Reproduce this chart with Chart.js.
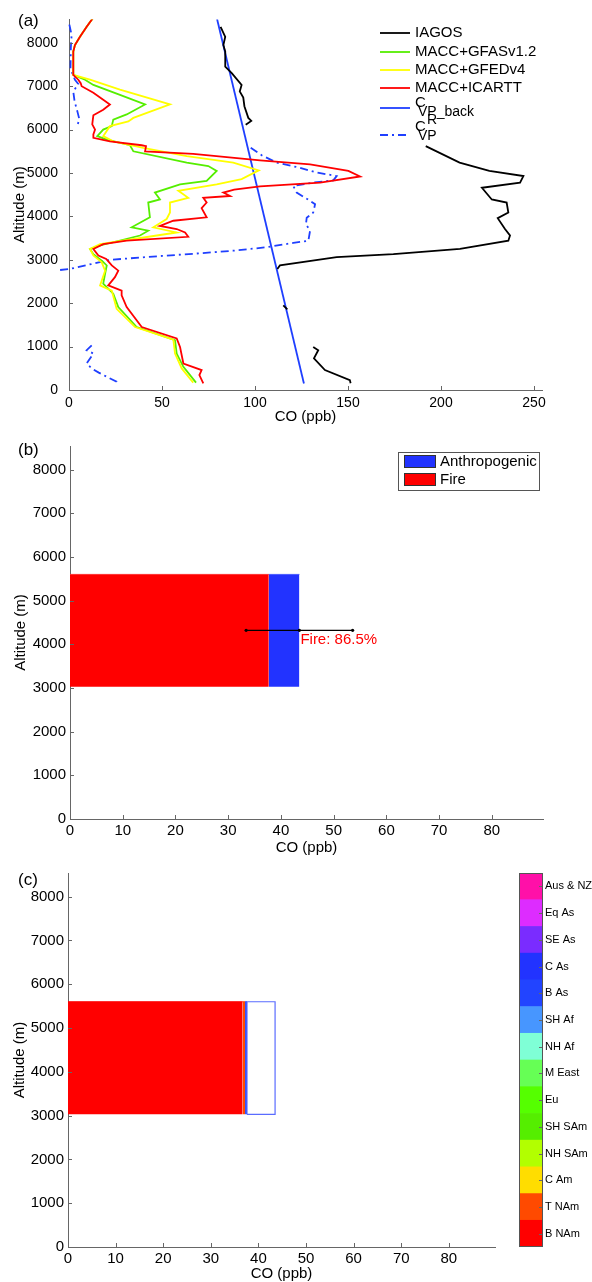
<!DOCTYPE html>
<html>
<head>
<meta charset="utf-8">
<script src="https://cdn.jsdelivr.net/npm/chart.js@4.4.0/dist/chart.umd.min.js"></script>
<style>
  body { margin: 0; background: #fff; width: 592px; height: 1282px; position: relative; overflow: hidden; }
  canvas { position: absolute; }
</style>
</head>
<body>
<canvas id="chartA" width="592" height="425" style="left:0;top:0"></canvas>
<canvas id="chartB" width="592" height="435" style="left:0;top:425px"></canvas>
<canvas id="chartC" width="500" height="432" style="left:0;top:850px"></canvas>
<canvas id="colorBar" width="92" height="432" style="left:500px;top:850px"></canvas>
<script>
// ---- panel (a): vertical profiles, CO (ppb) vs altitude (m); null = gap ----
const iagosCO  = [81.5, 84, 83, 84, 84, 87.5, 92.8, 91.8, 93.7, 94.3, 96.4, 98, 95, null,
                  191.8, 210, 226, 244.3, 242.5, 222, 227.3, 235.3, 236.2, 230.5, 234.4, 237.1, 236.2, 210.2, 174.4, 143.9, 113.4, 112, null,
                  115.2, 117.4, null,
                  131.3, 134, 131.7, 137.6, 151, 151.4];
const iagosAlt = [8370, 8140, 7950, 7800, 7450, 7300, 7030, 6880, 6740, 6540, 6270, 6200, 6110, null,
                  5620, 5240, 5050, 4930, 4780, 4660, 4390, 4320, 4090, 3960, 3710, 3560, 3440, 3250, 3130, 3060, 2870, 2790, null,
                  1950, 1860, null,
                  993, 917, 727, 459, 229, 154];

const gfasCO  = [12.7, 9.5, 5.9, 3.2, 2.3, 2.3, 8.6, 13.1, 27.4, 40.9, 31, 23.8, 23, 18.4, 15.2, 20.3, 32.8, 34.6, 63.3, 74.9,
                 79.4, 74, 59.7, 46.2, 48.9, 42.6, 43.5, 33.7, 42.6, 38.2, 16.7, 11.3, 13.1, 17.6, 20.3, 19.4, 18.4, 23.8, 26.5, 36.4,
                 57, 57.9, 61.5, 68.3];
const gfasAlt = [8560, 8370, 8140, 7950, 7800, 7260, 7150, 7030, 6800, 6580, 6350, 6230, 6080, 6000, 5850, 5770, 5640, 5500, 5240, 5160,
                 5050, 4820, 4740, 4550, 4390, 4320, 3980, 3750, 3670, 3560, 3330, 3250, 3130, 2980, 2870, 2680, 2450, 2220, 1910, 1450,
                 1150, 840, 535, 170];

const gfedCO  = [12.7, 9.5, 5.9, 3.2, 2.3, 2.3, 11.3, 27.4, 54.3, 34.6, 31.9, 22, 18.4, 23.8, 39.9, 63.3, 88.3, 102, 92.8, 79.4,
                 58.8, 64.1, 54.3, 54.3, 52.5, 45.3, 57.9, 47.2, 16.7, 11.3, 13.1, 17.6, 19.4, 17.6, 16.7, 23, 25.6, 35.5, 56.1, 57,
                 60.6, 66.8];
const gfedAlt = [8560, 8370, 8140, 7950, 7800, 7260, 7150, 6920, 6580, 6270, 6190, 6080, 5850, 5730, 5580, 5390, 5240, 5060, 4860, 4740,
                 4590, 4430, 4320, 4090, 3940, 3750, 3630, 3560, 3360, 3250, 3100, 2940, 2750, 2520, 2410, 2290, 1870, 1450, 1160, 840,
                 497, 170];

const icarttCO  = [12.7, 9.5, 5.9, 3.2, 2.3, 2.3, 5, 6.3, 6.8, 13.1, 18.4, 22, 18.4, 13.1, 12.5, 14, 13.1, 13.1, 22, 39.1,
                   41.4, 40.9, 66.8, 102.7, 129.6, 150.2, 156.5, 135, 102.7, 88.8, 83, 86.6, 72.2, 74, 71.3, 74, 56.1, 48.9, 57.9, 62.4,
                   64.1, 31, 18.4, 13.1, 15.8, 20, 23, 26.5, 24.7, 21.1, 28.3, 28.3, 31, 39.1, 57.9, 59.7, 61.5, 71.3, 70.1, 72.2];
const icarttAlt = [8560, 8370, 8140, 7950, 7800, 7260, 7150, 7070, 7000, 6850, 6690, 6580, 6460, 6330, 6120, 6000, 5890, 5810, 5730, 5640,
                   5620, 5500, 5440, 5290, 5200, 5050, 4920, 4780, 4690, 4620, 4550, 4470, 4430, 4320, 4190, 3980, 3900, 3780, 3710, 3630,
                   3530, 3440, 3360, 3250, 3100, 3020, 2870, 2750, 2600, 2410, 2290, 2180, 1910, 1450, 1190, 990, 610, 459, 344, 154];

const cvpBackCO  = [126.3, 79.6];
const cvpBackAlt = [150, 8550];

const cvpRCO  = [0.2, 1.4, 1.0, 0.8, 3.2, 5, 2.3, 3, 4.5, 5.5, 4.6, null,
                 97.7, 103.6, 111.7, 124.2, 132.3, 143.9, 142.1, 131.3, 120.6, 122.4, 129.6, 132.3, 131.3, 127.8, 127.4, 129.6, 128.7,
                 120.6, 106.3, 88.3, 70.4, 50, 22, 0.5, -6, null,
                 12.2, 9.5, 13.1, 9.5, 12.2, 16, 20.3, 25.6, 26];
const cvpRAlt = [8420, 8180, 7900, 7400, 7150, 7050, 6880, 6650, 6420, 6250, 6100, null,
                 5580, 5410, 5240, 5120, 5020, 4930, 4830, 4780, 4700, 4550, 4360, 4280, 4090, 3970, 3820, 3670, 3440,
                 3390, 3290, 3210, 3150, 3090, 3000, 2790, 2760, null,
                 1030, 917, 840, 612, 497, 400, 305, 190, 153];

// ---- panel (b): layer contributions ----
const layerAlt = [3030, 5600];      // bottom, top of the plume layer (m)
const fireCO = 37.7;                // ppb
const totalCO = 43.5;               // fire + anthropogenic
const errCO = 10.1;
const errAlt = 4320;
const fireLabel = 'Fire: 86.5%';

// ---- panel (c): fire contribution per source region ----
const regionNames  = ['B NAm', 'T NAm', 'C Am', 'NH SAm', 'SH SAm', 'Eu', 'M East', 'NH Af', 'SH Af', 'B As', 'C As', 'SE As', 'Eq As', 'Aus & NZ'];
const regionCO     = [36.7, 0.5, 0, 0, 0, 0, 0, 0, 0, 0.4, 0, 0, 0, 0];
const regionColors = ['#ff0000', '#ff4a00', '#ffdd00', '#b2ff00', '#55ee00', '#55ff00', '#66ff55', '#7fffd6',
                      '#4796ff', '#2244ff', '#2233ff', '#7a2cff', '#dd2cff', '#ff10a8'];

// ---- axes ----
const altRange = [0, 8540];
const altTicks = [0, 1000, 2000, 3000, 4000, 5000, 6000, 7000, 8000];
const coTicksA = [0, 50, 100, 150, 200, 250];
const coTicksBC = [0, 10, 20, 30, 40, 50, 60, 70, 80];

const SANS = "'Liberation Sans', Arial, Helvetica, sans-serif";
const AXIS = '#666';

Chart.defaults.font.family = SANS;
Chart.defaults.color = '#000';

const pts = (xs, ys) => xs.map((x, i) => ({ x: x, y: ys[i] }));
const setTicks = values => s => { s.ticks = values.map(v => ({ value: v })); };

// MATLAB style ticks pointing into the axes
const inwardTicks = {
  id: 'inwardTicks',
  afterDraw(chart) {
    const ctx = chart.ctx;
    ctx.save();
    ctx.strokeStyle = AXIS;
    ctx.lineWidth = 1;
    Object.values(chart.scales).forEach(scale => {
      if (!scale.options.display) return;
      scale.ticks.forEach(t => {
        const p = Math.round(scale.getPixelForValue(t.value)) + 0.5;
        ctx.beginPath();
        if (scale.position === 'bottom') { ctx.moveTo(p, scale.top); ctx.lineTo(p, scale.top - 4); }
        if (scale.position === 'left') { ctx.moveTo(scale.right, p); ctx.lineTo(scale.right + 4, p); }
        if (scale.position === 'right') { ctx.moveTo(scale.left, p); ctx.lineTo(scale.left - 4, p); }
        ctx.stroke();
      });
    });
    ctx.restore();
  }
};

// panel letter + free text
const panelText = {
  id: 'panelText',
  afterDraw(chart, args, opts) {
    const ctx = chart.ctx;
    ctx.save();
    ctx.textBaseline = 'middle';
    (opts.items || []).forEach(it => {
      ctx.font = (it.size || 17) + 'px ' + SANS;
      ctx.fillStyle = it.color || '#000';
      const x = it.dataX !== undefined ? chart.scales.x.getPixelForValue(it.dataX) + it.dx : it.x;
      const y = it.dataY !== undefined ? chart.scales.y.getPixelForValue(it.dataY) + it.dy : it.y;
      ctx.fillText(it.text, x, y);
    });
    ctx.restore();
  }
};

function axisX(max, tickValues, titlePad, boxH, tickPad, tickSize) {
  return {
    type: 'linear', min: 0, max: max,
    grid: { display: false, drawTicks: false },
    border: { display: true, color: AXIS, width: 1 },
    afterBuildTicks: setTicks(tickValues),
    ticks: { padding: tickPad, font: { size: tickSize }, maxRotation: 0, autoSkip: false, callback: v => String(v) },
    title: { display: true, text: 'CO (ppb)', font: { size: 15 }, padding: { top: 0, bottom: titlePad } },
    afterFit: s => { s.height = boxH; }
  };
}
function axisY(boxW, tickPad, titlePad, tickSize) {
  return {
    type: 'linear', min: altRange[0], max: altRange[1],
    grid: { display: false, drawTicks: false },
    border: { display: true, color: AXIS, width: 1 },
    afterBuildTicks: setTicks(altTicks),
    ticks: { padding: tickPad, font: { size: tickSize }, autoSkip: false, callback: v => String(v) },
    title: { display: true, text: 'Altitude (m)', font: { size: 15 }, padding: { top: titlePad, bottom: 0 } },
    afterFit: s => { s.width = boxW; }
  };
}
const lineDs = (data, color, dash, width) => ({
  data: data, showLine: true, borderColor: color, borderWidth: width || 1.8, borderDash: dash || [],
  pointRadius: 0, fill: false, spanGaps: false, tension: 0
});

// ---------------- panel (a) ----------------
const legendItems = [
  { text: 'IAGOS', color: '#000', y: 33 },
  { text: 'MACC+GFASv1.2', color: '#55ee00', y: 52 },
  { text: 'MACC+GFEDv4', color: '#ffff00', y: 70 },
  { text: 'MACC+ICARTT', color: '#ff0000', y: 88 },
  { text: 'C', sub: 'VP_back', color: '#1f3fff', y: 108, ty: 103 },
  { text: 'C', sub: 'VP', sup: 'R', color: '#1f3fff', y: 135, ty: 127, dash: [8, 4, 2, 4] }
];
const legendA = {
  id: 'legendA',
  afterDraw(chart) {
    const ctx = chart.ctx;
    ctx.save();
    ctx.textBaseline = 'middle';
    legendItems.forEach(it => {
      ctx.strokeStyle = it.color;
      ctx.lineWidth = 1.8;
      ctx.setLineDash(it.dash || []);
      ctx.beginPath();
      ctx.moveTo(380, it.y); ctx.lineTo(410, it.y);
      ctx.stroke();
      ctx.setLineDash([]);
      ctx.fillStyle = '#000';
      ctx.font = '15px ' + SANS;
      ctx.fillText(it.text, 415, it.ty || it.y);
      ctx.font = '14px ' + SANS;
      if (it.sub) ctx.fillText(it.sub, 418, (it.ty || it.y) + 9);
      if (it.sup) ctx.fillText(it.sup, 427, (it.ty || it.y) - 7);
    });
    ctx.restore();
  }
};

new Chart(document.getElementById('chartA'), {
  type: 'scatter',
  data: {
    datasets: [
      lineDs(pts(icarttCO, icarttAlt), '#ff0000'),
      lineDs(pts(gfedCO, gfedAlt), '#ffff00'),
      lineDs(pts(gfasCO, gfasAlt), '#55ee00'),
      lineDs(pts(iagosCO, iagosAlt), '#000000'),
      lineDs(pts(cvpBackCO, cvpBackAlt), '#1f3fff'),
      Object.assign(lineDs(pts(cvpRCO, cvpRAlt), '#1f3fff', [8, 4, 2, 4]), { clip: false })
    ]
  },
  options: {
    responsive: false, animation: false, events: [],
    layout: { padding: { left: 0, right: 50, top: 17, bottom: 0 } },
    plugins: {
      legend: { display: false }, tooltip: { enabled: false },
      panelText: { items: [{ text: '(a)', x: 18, y: 21 }] }
    },
    scales: {
      x: axisX(254.3, coTicksA, -1, 35, 5, 14),
      y: axisY(69, 11, 11, 14)
    }
  },
  plugins: [inwardTicks, panelText, legendA]
});

// ---------------- panel (b) ----------------
const legendB = {
  id: 'legendB',
  afterDraw(chart) {
    const ctx = chart.ctx;
    ctx.save();
    ctx.strokeStyle = '#555';
    ctx.lineWidth = 1;
    ctx.strokeRect(398.5, 27.5, 141, 38);
    [['Anthropogenic', '#2233ff', 30], ['Fire', '#ff0000', 48]].forEach(([label, color, y]) => {
      ctx.fillStyle = color;
      ctx.fillRect(404, y, 32, 13);
      ctx.strokeStyle = '#333';
      ctx.strokeRect(404.5, y + 0.5, 31, 12);
      ctx.fillStyle = '#000';
      ctx.font = '15px ' + SANS;
      ctx.textBaseline = 'middle';
      ctx.fillText(label, 440, y + 7);
    });
    ctx.restore();
  }
};
const rectDs = (x0, x1, color, edge) => ({
  data: [{ x: x0, y: layerAlt[1] }, { x: x1, y: layerAlt[1] }],
  showLine: true, borderColor: edge || color, borderWidth: 1, pointRadius: 0,
  backgroundColor: color, fill: { value: layerAlt[0] }
});

new Chart(document.getElementById('chartB'), {
  type: 'scatter',
  data: {
    datasets: [
      {
        data: [{ x: totalCO - errCO, y: errAlt }, { x: totalCO, y: errAlt }, { x: totalCO + errCO, y: errAlt }],
        showLine: true, borderColor: '#000', borderWidth: 1.3, pointRadius: 1.6,
        pointBackgroundColor: '#000', pointBorderWidth: 0, fill: false
      },
      rectDs(0, fireCO, '#ff0000', '#ff3030'),
      rectDs(fireCO, totalCO, '#2233ff', '#4a5cff')
    ]
  },
  options: {
    responsive: false, animation: false, events: [],
    layout: { padding: { left: 0, right: 49, top: 21, bottom: 0 } },
    plugins: {
      legend: { display: false }, tooltip: { enabled: false },
      panelText: { items: [
        { text: '(b)', x: 18, y: 25 },
        { text: fireLabel, size: 15, color: '#ff0000', dataX: totalCO, dx: 1, dataY: errAlt, dy: 10 }
      ] }
    },
    scales: {
      x: axisX(89.7, coTicksBC, 3, 41, 3, 15),
      y: axisY(70, 4, 12, 15)
    }
  },
  plugins: [inwardTicks, panelText, legendB]
});

// ---------------- panel (c) ----------------
const regionDs = [];
let acc = 0;
regionCO.forEach((v, i) => {
  if (v > 0) regionDs.push(rectDs(acc, acc + v, regionColors[i]));
  acc += v;
});
const anthroBox = {
  data: [
    { x: acc, y: layerAlt[0] }, { x: totalCO, y: layerAlt[0] }, { x: totalCO, y: layerAlt[1] },
    { x: acc, y: layerAlt[1] }, { x: acc, y: layerAlt[0] }
  ],
  showLine: true, borderColor: '#5a6cff', borderWidth: 1.2, pointRadius: 0, fill: false
};

new Chart(document.getElementById('chartC'), {
  type: 'scatter',
  data: { datasets: [anthroBox].concat(regionDs) },
  options: {
    responsive: false, animation: false, events: [],
    layout: { padding: { left: 0, right: 5, top: 23, bottom: 0 } },
    plugins: {
      legend: { display: false }, tooltip: { enabled: false },
      panelText: { items: [{ text: '(c)', x: 18, y: 30 }] }
    },
    scales: {
      x: axisX(89.7, coTicksBC, -1, 35, 3, 15),
      y: axisY(68, 4, 11, 15)
    }
  },
  plugins: [inwardTicks, panelText]
});

// ---------------- colour bar ----------------
const frame = {
  id: 'frame',
  afterDraw(chart) {
    const a = chart.chartArea;
    const ctx = chart.ctx;
    ctx.save();
    ctx.strokeStyle = '#555';
    ctx.lineWidth = 1;
    ctx.strokeRect(Math.round(a.left) + 0.5, Math.round(a.top) + 0.5, Math.round(a.right - a.left) - 1, Math.round(a.bottom - a.top) - 1);
    ctx.restore();
  }
};
new Chart(document.getElementById('colorBar'), {
  type: 'bar',
  data: {
    labels: [''],
    datasets: regionNames.map((n, i) => ({
      label: n, data: [1], backgroundColor: regionColors[i], borderWidth: 0,
      barPercentage: 1, categoryPercentage: 1
    }))
  },
  options: {
    responsive: false, animation: false, events: [],
    layout: { padding: { left: 19, right: 0, top: 23, bottom: 35 } },
    plugins: { legend: { display: false }, tooltip: { enabled: false } },
    scales: {
      x: { display: false, stacked: true },
      y: {
        stacked: true, position: 'right', min: 0, max: regionNames.length,
        grid: { display: false, drawTicks: false },
        border: { display: false },
        afterBuildTicks: s => { s.ticks = regionNames.map((n, i) => ({ value: i + 0.5 })); },
        ticks: { autoSkip: false, padding: 2, font: { size: 11 }, callback: (v, i) => regionNames[i] },
        afterFit: s => { s.width = 49; }
      }
    }
  },
  plugins: [inwardTicks, frame]
});
</script>
</body>
</html>
